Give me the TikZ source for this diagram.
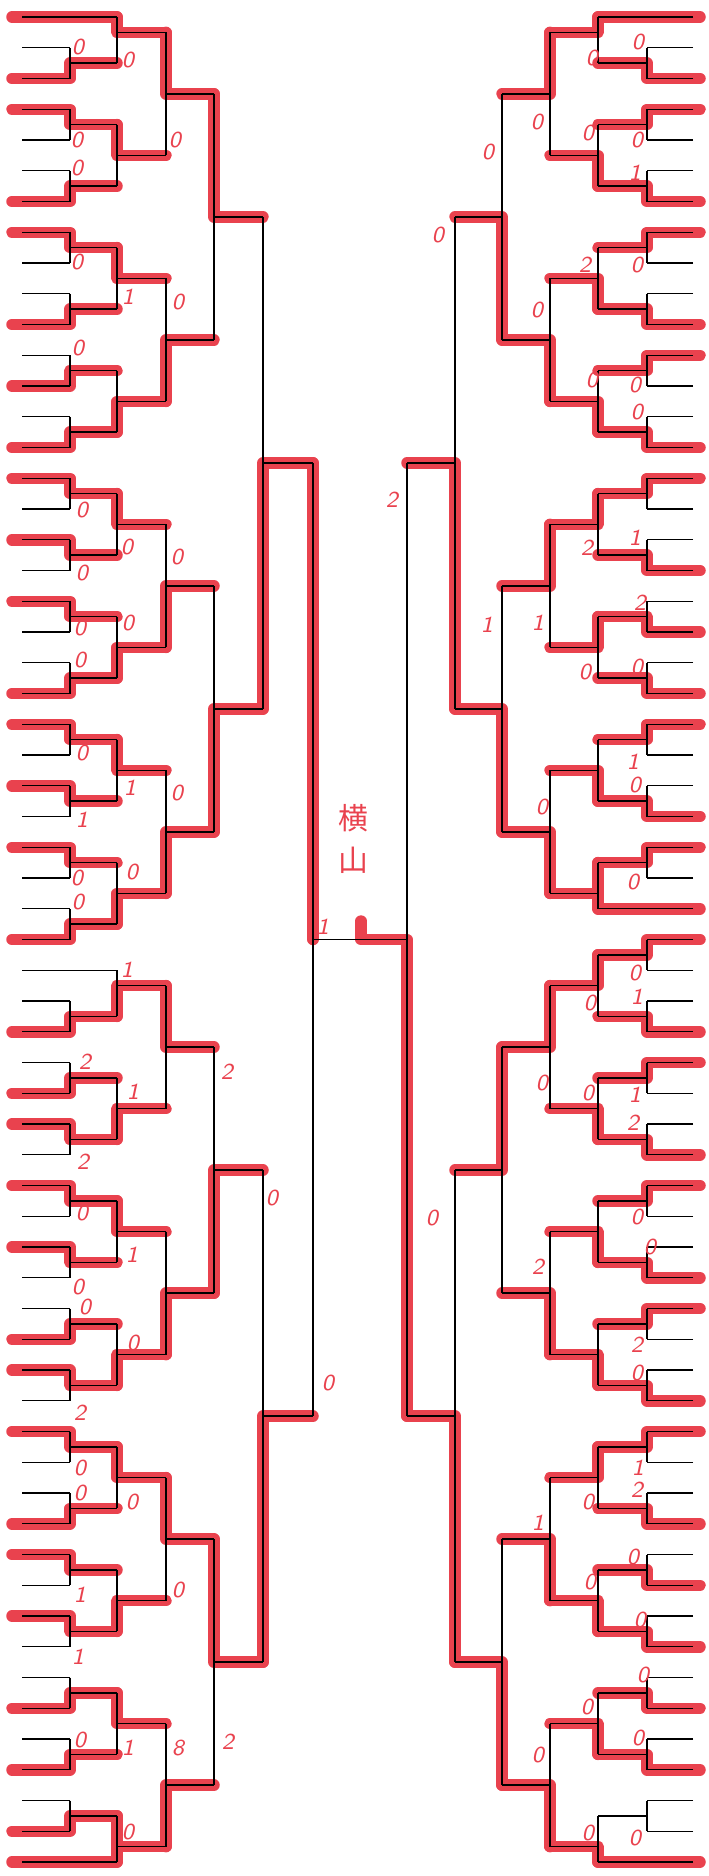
\documentclass[tikz,border=0pt]{standalone}
\usepackage{fontspec}
\newfontfamily\cjk{Noto Sans CJK JP}
\usetikzlibrary{backgrounds}
\definecolor{marker}{RGB}{233,66,78}

% x of the lines on one side: start, R1 ... R6, then x where red starts
\newcommand\setside[2]{\def\xs{#1}\def\xr{#2}}

% [mid] round, upper slot, lower slot, winner (0 none, 1 upper, 2 lower, 3 both)
\newcommand\bmatch[5][]{%
  \pgfmathsetmacro\xo{\xs[0]}%
  \pgfmathsetmacro\xv{\xs[#2]}%
  \pgfmathsetmacro\xn{\xs[#2+1]}%
  \ifx\relax#1\relax\pgfmathsetmacro\ym{(#3+#4)/2}\else\def\ym{#1}\fi
  \begin{pgfonlayer}{background}
  \ifcase#5\relax
  \or \ifnum#2=1 \draw[win] (\xr,#3) -- (\xv,#3) |- (\xn,\ym);
      \else \draw[win] (\xv,#3) |- (\xn,\ym); \fi
  \or \ifnum#2=1 \draw[win] (\xr,#4) -- (\xv,#4) |- (\xn,\ym);
      \else \draw[win] (\xv,#4) |- (\xn,\ym); \fi
  \or \draw[win] (\xv,#3) -- (\xv,#4) (\xv,\ym) -- (\xn,\ym);
  \fi
  \end{pgfonlayer}
  \ifnum#2=1 \draw[bline] (\xo,#3) -- (\xv,#3) (\xo,#4) -- (\xv,#4); \fi
  \draw[bline] (\xv,#3) -- (\xv,#4) (\xv,\ym) -- (\xn,\ym);
}

% entrant with a bye into round 2: slot, red (0/1)
\newcommand\byeline[2]{%
  \pgfmathsetmacro\xo{\xs[0]}%
  \pgfmathsetmacro\xv{\xs[2]}%
  \ifnum#2=1 \begin{pgfonlayer}{background}\draw[win] (\xr,#1) -- (\xv,#1);\end{pgfonlayer}\fi
  \draw[bline] (\xo,#1) -- (\xv,#1);
}

\begin{document}
\begin{tikzpicture}[
  x=0.1mm, y=-0.1mm,
  bline/.style={draw=black, line width=0.13mm},
  win/.style={draw=marker, line width=1.15mm, line cap=round, line join=round},
  score/.style={text=marker, inner sep=0pt, font=\sffamily\itshape\fontsize{6.5}{6.5}\selectfont},
  kanji/.style={text=marker, inner sep=0pt, font=\cjk\fontsize{8.5}{9}\selectfont},
]
  \useasboundingbox (0,0) rectangle (709,1876);

  \begin{scope}[yshift=-1.7mm, y=-3.075mm]
  % ===== left half =====
  \setside{{22,70,117,166,214,263,313}}{12}
  % block 1
  \byeline{0}{1}
  \bmatch{1}{1}{2}{2} \bmatch{1}{3}{4}{1} \bmatch{1}{5}{6}{2} \bmatch{1}{7}{8}{1}
  \bmatch{1}{9}{10}{2} \bmatch{1}{11}{12}{2} \bmatch{1}{13}{14}{2}
  \bmatch[0.5]{2}{0}{1.5}{1} \bmatch{2}{3.5}{5.5}{1} \bmatch{2}{7.5}{9.5}{1} \bmatch{2}{11.5}{13.5}{2}
  \bmatch{3}{0.5}{4.5}{1} \bmatch{3}{8.5}{12.5}{2}
  \bmatch{4}{2.5}{10.5}{1}
  % block 2
  \bmatch{1}{15}{16}{1} \bmatch{1}{17}{18}{1} \bmatch{1}{19}{20}{1} \bmatch{1}{21}{22}{2}
  \bmatch{1}{23}{24}{1} \bmatch{1}{25}{26}{1} \bmatch{1}{27}{28}{1} \bmatch{1}{29}{30}{2}
  \bmatch{2}{15.5}{17.5}{1} \bmatch{2}{19.5}{21.5}{2} \bmatch{2}{23.5}{25.5}{1} \bmatch{2}{27.5}{29.5}{2}
  \bmatch{3}{16.5}{20.5}{2} \bmatch{3}{24.5}{28.5}{2}
  \bmatch{4}{18.5}{26.5}{2}
  \bmatch{5}{6.5}{22.5}{2}
  % block 3
  \byeline{31}{0}
  \bmatch{1}{32}{33}{2} \bmatch{1}{34}{35}{2} \bmatch{1}{36}{37}{1} \bmatch{1}{38}{39}{1}
  \bmatch{1}{40}{41}{1} \bmatch{1}{42}{43}{2} \bmatch{1}{44}{45}{1}
  \bmatch[31.5]{2}{31}{32.5}{2} \bmatch{2}{34.5}{36.5}{2} \bmatch{2}{38.5}{40.5}{1} \bmatch{2}{42.5}{44.5}{2}
  \bmatch{3}{31.5}{35.5}{1} \bmatch{3}{39.5}{43.5}{2}
  \bmatch{4}{33.5}{41.5}{2}
  % block 4
  \bmatch{1}{46}{47}{1} \bmatch{1}{48}{49}{2} \bmatch{1}{50}{51}{1} \bmatch{1}{52}{53}{1}
  \bmatch{1}{54}{55}{2} \bmatch{1}{56}{57}{2} \bmatch{1}{58}{59}{2}
  \byeline{60}{1}
  \bmatch{2}{46.5}{48.5}{1} \bmatch{2}{50.5}{52.5}{2} \bmatch{2}{54.5}{56.5}{1} \bmatch[59.5]{2}{58.5}{60}{3}
  \bmatch{3}{47.5}{51.5}{1} \bmatch{3}{55.5}{59.5}{2}
  \bmatch{4}{49.5}{57.5}{1}
  \bmatch{5}{37.5}{53.5}{2}

  % ===== right half =====
  \setside{{693,647,598,550,502,455,407}}{700}
  % block 1
  \byeline{0}{1}
  \bmatch{1}{1}{2}{2} \bmatch{1}{3}{4}{1} \bmatch{1}{5}{6}{2} \bmatch{1}{7}{8}{1}
  \bmatch{1}{9}{10}{2} \bmatch{1}{11}{12}{1} \bmatch{1}{13}{14}{2}
  \bmatch[0.5]{2}{0}{1.5}{1} \bmatch{2}{3.5}{5.5}{2} \bmatch{2}{7.5}{9.5}{2} \bmatch{2}{11.5}{13.5}{2}
  \bmatch{3}{0.5}{4.5}{1} \bmatch{3}{8.5}{12.5}{2}
  \bmatch{4}{2.5}{10.5}{2}
  % block 2
  \bmatch{1}{15}{16}{1} \bmatch{1}{17}{18}{2} \bmatch{1}{19}{20}{2} \bmatch{1}{21}{22}{2}
  \bmatch{1}{23}{24}{1} \bmatch{1}{25}{26}{2} \bmatch{1}{27}{28}{1}
  \byeline{29}{1}
  \bmatch{2}{15.5}{17.5}{1} \bmatch{2}{19.5}{21.5}{1} \bmatch{2}{23.5}{25.5}{2} \bmatch[28.5]{2}{27.5}{29}{3}
  \bmatch{3}{16.5}{20.5}{1} \bmatch{3}{24.5}{28.5}{2}
  \bmatch{4}{18.5}{26.5}{2}
  \bmatch{5}{6.5}{22.5}{2}
  % block 3
  \bmatch{1}{30}{31}{1} \bmatch{1}{32}{33}{2} \bmatch{1}{34}{35}{1} \bmatch{1}{36}{37}{2}
  \bmatch{1}{38}{39}{1} \bmatch{1}{40}{41}{2} \bmatch{1}{42}{43}{1} \bmatch{1}{44}{45}{2}
  \bmatch{2}{30.5}{32.5}{1} \bmatch{2}{34.5}{36.5}{2} \bmatch{2}{38.5}{40.5}{2} \bmatch{2}{42.5}{44.5}{2}
  \bmatch{3}{31.5}{35.5}{1} \bmatch{3}{39.5}{43.5}{2}
  \bmatch{4}{33.5}{41.5}{1}
  % block 4
  \bmatch{1}{46}{47}{1} \bmatch{1}{48}{49}{2} \bmatch{1}{50}{51}{2} \bmatch{1}{52}{53}{2}
  \bmatch{1}{54}{55}{2} \bmatch{1}{56}{57}{2} \bmatch{1}{58}{59}{0}
  \byeline{60}{1}
  \bmatch{2}{46.5}{48.5}{1} \bmatch{2}{50.5}{52.5}{2} \bmatch{2}{54.5}{56.5}{2} \bmatch[59.5]{2}{58.5}{60}{2}
  \bmatch{3}{47.5}{51.5}{2} \bmatch{3}{55.5}{59.5}{2}
  \bmatch{4}{49.5}{57.5}{2}
  \bmatch{5}{37.5}{53.5}{2}

  % ===== final =====
  \begin{pgfonlayer}{background}
    \draw[win] (313,14.5) -- (313,30);
    \draw[win] (407,45.5) -- (407,30) -- (361,30) -- (361,29.4);
  \end{pgfonlayer}
  \draw[bline] (313,14.5) -- (313,45.5) (407,14.5) -- (407,45.5) (313,30) -- (407,30);
  \end{scope}

  % name of the winner
  \node[kanji] (kan1) at (353,818) {横};
  \node[kanji] (kan2) at (353,860) {山};

  % scores, left half
  \foreach \x/\y/\t [count=\i] in {
    78/47/0, 128/60/0, 77/140/0, 77/168/0, 175/140/0, 77/262/0, 128/297/1, 178/302/0, 78/348/0,
    82/510/0, 127/547/0, 177/557/0, 82/573/0, 80/628/0, 128/623/0, 80/660/0, 82/753/0,
    130/788/1, 177/793/0, 82/820/1, 77/878/0, 132/872/0, 78/902/0,
    127/970/1, 85/1062/2, 133/1092/1, 227/1072/2, 83/1162/2, 272/1198/0, 82/1213/0,
    132/1255/1, 78/1287/0, 85/1307/0, 133/1343/0,
    80/1413/2, 80/1468/0, 80/1493/0, 132/1502/0, 178/1590/0, 80/1595/1, 78/1657/1,
    80/1740/0, 128/1748/1, 178/1748/8, 228/1742/2, 128/1832/0, 328/1383/0, 323/927/1}
    \node[score] (ls\i) at (\x,\y) {\t};

  % scores, right half
  \foreach \x/\y/\t [count=\i] in {
    638/42/0, 592/58/0, 537/122/0, 488/152/0, 588/133/0, 637/140/0, 635/173/1, 438/235/0,
    585/265/2, 637/265/0, 537/310/0, 592/380/0, 635/385/0, 637/412/0, 392/500/2,
    587/548/2, 635/538/1, 487/625/1, 538/623/1, 640/603/2, 585/672/0, 637/667/0,
    542/807/0, 633/762/1, 635/785/0, 633/882/0,
    635/973/0, 590/1003/0, 637/997/1, 542/1083/0, 588/1093/0, 635/1095/1, 633/1123/2,
    432/1218/0, 637/1217/0, 650/1247/0, 538/1267/2, 637/1345/2, 637/1373/0,
    538/1523/1, 638/1468/1, 637/1490/2, 588/1502/0, 633/1557/0, 590/1582/0, 640/1620/0,
    643/1675/0, 587/1707/0, 638/1738/0, 538/1755/0, 588/1833/0, 635/1838/0}
    \node[score] (rs\i) at (\x,\y) {\t};
\end{tikzpicture}
\end{document}
